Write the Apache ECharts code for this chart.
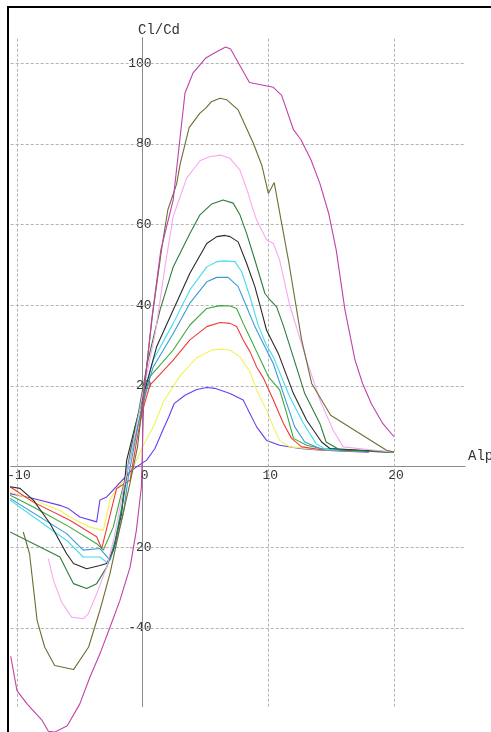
<!DOCTYPE html>
<html><head><meta charset="utf-8">
<script src="https://cdn.jsdelivr.net/npm/echarts@6/dist/echarts.min.js"></script>
<style>html,body{margin:0;padding:0;background:#fff}#c{width:491px;height:732px}</style>
</head><body><div id="c"></div>
<script>
// Tick labels and grid positions
const xTickLabels = [-10, 0, 10, 20];
const yTickLabels = [-40, -20, 20, 40, 60, 80, 100];
const xGridValues = [-10, 10, 20];
const yGridValues = [-40, -20, 20, 40, 60, 80, 100];

// Series (alpha in degrees, Cl/Cd)
const alphaPurple = [-10.55,-8.7,-6.58,-5.9,-5.0,-3.66,-3.4,-2.86,-0.88,0.32,0.98,1.6,2.1,2.5,3.37,4.3,5.1,5.75,6.95,8.0,8.4,9.07,9.86,10.9,12.5,14,16,18];
const clcdPurple  = [-6.7,-7.9,-9.6,-10.4,-12.5,-13.7,-8.3,-7.5,-0.9,1.6,4.5,9,12.5,15.6,17.7,19.1,19.6,19.4,18.1,16.5,14,9.85,6.5,5.3,4.5,4.1,3.8,3.6];

const alphaYellow = [-10.55,-8.7,-6.6,-5.8,-4.2,-3.13,-2.6,-2.07,-1.0,0,0.98,1.64,2.97,4.3,5.6,6.28,6.95,7.74,8.54,9.07,9.86,10.4,10.9,11.7,14.4,20];
const clcdYellow  = [-6.3,-8.3,-10.8,-12.5,-15,-15.8,-8.3,-5.4,-2,4.9,10.7,16,22.5,27,29,29.1,28.9,27.2,23.5,19,14,9.85,6.5,4.9,4.1,3.6];

const alphaRed = [-10.55,-8.7,-5.8,-3.66,-3.26,-2.07,-1.0,-0.5,0,0.58,2.43,3.76,5.1,6.15,6.95,7.48,8.0,8.54,9.07,9.6,10.4,11.2,11.85,12.65,14.4,20];
const clcdRed  = [-5,-8.8,-13.3,-17.4,-20.3,-5.4,-3.4,6,14,20.2,26.4,31.4,34.7,35.7,35.5,34.7,31.4,28.5,24.7,22,16.5,10.7,7.0,4.9,4.1,3.6];

const alphaGreen = [-10.55,-8.7,-5.8,-3.66,-3.13,-2.34,-1.8,-1.0,-0.4,0,0.58,2.43,3.76,5.1,6.15,6.95,7.48,8.0,8.54,9.07,9.6,10.0,10.9,11.46,12.0,13.05,14.6,20];
const clcdGreen  = [-7.1,-10,-15,-19.1,-20.7,-15,-8,2,10,15,22.3,28.9,35.1,39.2,39.9,39.8,39.2,35.5,32,28.5,25,22.3,19,13.2,7.0,5.3,4.2,3.6];

const alphaBlue = [-10.55,-6.05,-4.73,-3.4,-2.6,-2.07,-1.54,-1.14,-0.5,0,0.84,2.43,3.76,5.1,5.9,6.8,7.6,8.27,8.93,9.6,10.4,11.2,12.1,12.9,14.1,20];
const clcdBlue  = [-7.9,-16.6,-20.7,-20.3,-23.2,-18.3,-11.6,-2.6,8,16,24.7,33,40.5,45.8,46.9,46.9,44.6,39.6,34.7,30.5,25.5,18.1,9.85,6.1,4.5,3.6];

const alphaCyan = [-10.55,-6.05,-4.73,-3.4,-2.74,-2.2,-1.67,-1.27,-0.6,0,0.84,2.43,3.76,5.1,5.9,6.5,7.34,7.88,8.54,9.2,9.86,10.4,11.7,12.8,13.8,14.6,20];
const clcdCyan  = [-8.3,-18.3,-22.4,-22.4,-24,-18.3,-10,-0.9,10,17,26.4,35.5,43.8,49.5,50.8,51,50.8,48.3,42.1,35,30,27.2,17.3,10.7,5.7,4.2,3.6];

const alphaBlack = [-10.55,-9.76,-8.7,-7.37,-6.05,-5.5,-4.46,-3.4,-2.86,-2.34,-1.67,-1.27,-0.6,0,1.11,2.43,3.76,5.1,5.9,6.55,6.95,7.6,8.27,8.93,9.4,9.86,10.8,12.0,13.05,14.24,14.9,20];
const clcdBlack  = [-5,-5.4,-8.3,-14.1,-21.6,-24,-25.3,-24.5,-24,-20.7,-11.6,1.6,10,17,29.7,38.8,47.9,55.3,57,57.3,57,55.7,50.4,44.6,39.2,33.8,28,18.1,11.5,6.1,4.5,3.6];

const alphaDarkGreen = [-10.55,-6.58,-6.05,-5.5,-4.46,-3.66,-2.86,-2.2,-1.54,-1.0,-0.3,0.4,1.38,2.43,3.76,4.56,5.5,6.4,7.2,7.74,8.27,8.93,9.73,10.13,10.66,11.19,12.0,12.9,14.1,14.6,15.7,20];
const clcdDarkGreen  = [-16.2,-22.4,-25.7,-29,-30.2,-29,-24.9,-19.1,-8.3,3.2,14,26,38.8,49.5,57.8,62.4,65.1,66.1,65.3,62.4,57.8,51.2,42.9,41.3,39.6,35,27,18.1,10.7,6.1,4.1,3.6];

const alphaPink = [-7.5,-7.1,-6.44,-5.65,-4.73,-4.33,-3.66,-2.86,-2.3,-1.5,-0.8,0,1,1.8,2.43,3.5,4.56,5.3,6.2,6.95,7.74,8.4,8.7,9.07,9.86,10.4,10.9,11.7,13.05,14.1,15.16,15.96,18.3,20];
const clcdPink  = [-22.8,-28.2,-33.6,-37.3,-37.7,-36.5,-31.5,-24.9,-18,-5,5,18,33,50,62,71.5,75.8,76.8,77.2,76.4,73.5,67.7,64.5,61.1,56.2,55.3,51.2,40,26.4,16.5,9.0,4.9,4.1,3.6];

const alphaOlive = [-9.5,-9.0,-8.7,-8.4,-7.8,-7.0,-5.5,-4.3,-3.4,-2.6,-1.8,-1.0,-0.4,0.1,0.8,1.5,2.0,2.7,3.0,3.7,4.56,5.0,5.5,6.15,6.7,7.6,8.8,9.5,10.0,10.47,11.06,11.6,12.65,13.45,14.96,19.4,20];
const clcdOlive  = [-16.2,-21.6,-29.8,-38.1,-44.7,-49.3,-50.3,-44.7,-35.6,-26.5,-15,-4,5,19,38,53.7,63.6,70,75.2,84,87.6,88.8,90.5,91.3,90.9,88.4,80.2,74.5,67.7,70.4,60.3,51.2,31.4,20.6,12.75,4.07,3.6];

const alphaMagenta = [-10.5,-10.0,-9.2,-8.0,-7.5,-7.0,-6.0,-5.0,-4.2,-3.4,-2.6,-1.8,-1.0,-0.5,-0.1,0.1,0.7,1.45,2.43,3.37,4.0,5.0,5.6,6.6,7.0,7.7,8.5,10.4,11.06,12.0,12.6,13.4,14.1,14.8,15.4,16.1,16.9,17.5,18.2,19.1,20.0];
const clcdMagenta  = [-47,-55.5,-58.8,-62.9,-65.6,-65.8,-64.2,-58.8,-52.2,-46.4,-39.8,-33.1,-24.9,-15.8,-5,18,36,53.7,66.1,92.6,97.5,101.2,102.3,104,103.5,99.6,95.2,94,92,83.5,81,76,70.2,62.8,53.7,38.8,26.4,20.6,15.6,10.7,7.4];

const seriesList = [
  {name: 'purple', a: alphaPurple, v: clcdPurple, color: '#6a3cf0'},
  {name: 'yellow', a: alphaYellow, v: clcdYellow, color: '#f2f25a'},
  {name: 'red', a: alphaRed, v: clcdRed, color: '#f03a3a'},
  {name: 'green', a: alphaGreen, v: clcdGreen, color: '#3aa83a'},
  {name: 'blue', a: alphaBlue, v: clcdBlue, color: '#3a9ad8'},
  {name: 'cyan', a: alphaCyan, v: clcdCyan, color: '#44dcec'},
  {name: 'black', a: alphaBlack, v: clcdBlack, color: '#2a2a2a'},
  {name: 'darkgreen', a: alphaDarkGreen, v: clcdDarkGreen, color: '#2f7a3c'},
  {name: 'pink', a: alphaPink, v: clcdPink, color: '#f8a8f0'},
  {name: 'olive', a: alphaOlive, v: clcdOlive, color: '#6e6e34'},
  {name: 'magenta', a: alphaMagenta, v: clcdMagenta, color: '#c042a8'}
];

const font = 'Liberation Mono, DejaVu Sans Mono, monospace';
const W = 491, H = 732;
const gridBox = {left: 10.7, right: 26, top: 37.7, bottom: 25.3};
const xMin = -10.5, xMax = 25.65, yMin = -59.5, yMax = 106.3;
// axis offsets so the axes cross at (0,0), computed from the axis scales
const plotW = W - gridBox.left - gridBox.right;
const plotH = H - gridBox.top - gridBox.bottom;
const yAxisOffset = -((0 - xMin) / (xMax - xMin)) * plotW;
const xAxisOffset = -((0 - yMin) / (yMax - yMin)) * plotH;

const chart = echarts.init(document.getElementById('c'), null, {renderer: 'canvas'});

const series = [{
  type: 'line', data: [], silent: true, z: 1,
  markLine: {
    silent: true, symbol: 'none', animation: false,
    label: {show: false},
    lineStyle: {type: [3, 2], color: '#b4b4b4', width: 1},
    data: xGridValues.map(x => ({xAxis: x})).concat(yGridValues.map(y => ({yAxis: y})))
  }
}];
seriesList.forEach((s, i) => {
  series.push({
    type: 'line', name: s.name, data: s.a.map((a, k) => [a, s.v[k]]),
    showSymbol: false, clip: false, smooth: false, z: 3 + i,
    lineStyle: {color: s.color, width: 1.1}, itemStyle: {color: s.color}
  });
});

chart.setOption({
  animation: false,
  backgroundColor: '#fff',
  title: [
    {text: 'Cl/Cd', left: 138, top: 23, padding: 0, textStyle: {fontFamily: font, fontSize: 14, fontWeight: 'normal', color: '#333'}},
    {text: 'Alpha', left: 468, top: 449, padding: 0, textStyle: {fontFamily: font, fontSize: 14, fontWeight: 'normal', color: '#333'}}
  ],
  grid: Object.assign({containLabel: false, outerBoundsMode: 'none'}, gridBox),
  xAxis: {
    type: 'value', min: xMin, max: xMax, position: 'bottom', offset: xAxisOffset,
    axisLine: {onZero: false, lineStyle: {color: '#8a8a8a', width: 1}},
    axisTick: {show: false},
    splitLine: {show: false},
    axisLabel: {customValues: xTickLabels, margin: 2, padding: [0, 0, 0, 4], fontFamily: font, fontSize: 13, color: '#333'}
  },
  yAxis: {
    type: 'value', min: yMin, max: yMax, position: 'left', offset: yAxisOffset,
    axisLine: {onZero: false, lineStyle: {color: '#8a8a8a', width: 1}},
    axisTick: {show: false},
    splitLine: {show: false},
    axisLabel: {customValues: yTickLabels, margin: -9, fontFamily: font, fontSize: 13, color: '#333'}
  },
  graphic: [{
    type: 'rect', silent: true, z: 100,
    shape: {x: 8, y: 7, width: 600, height: 800},
    style: {fill: 'none', stroke: '#000', lineWidth: 2}
  }],
  series: series
});
</script></body></html>
